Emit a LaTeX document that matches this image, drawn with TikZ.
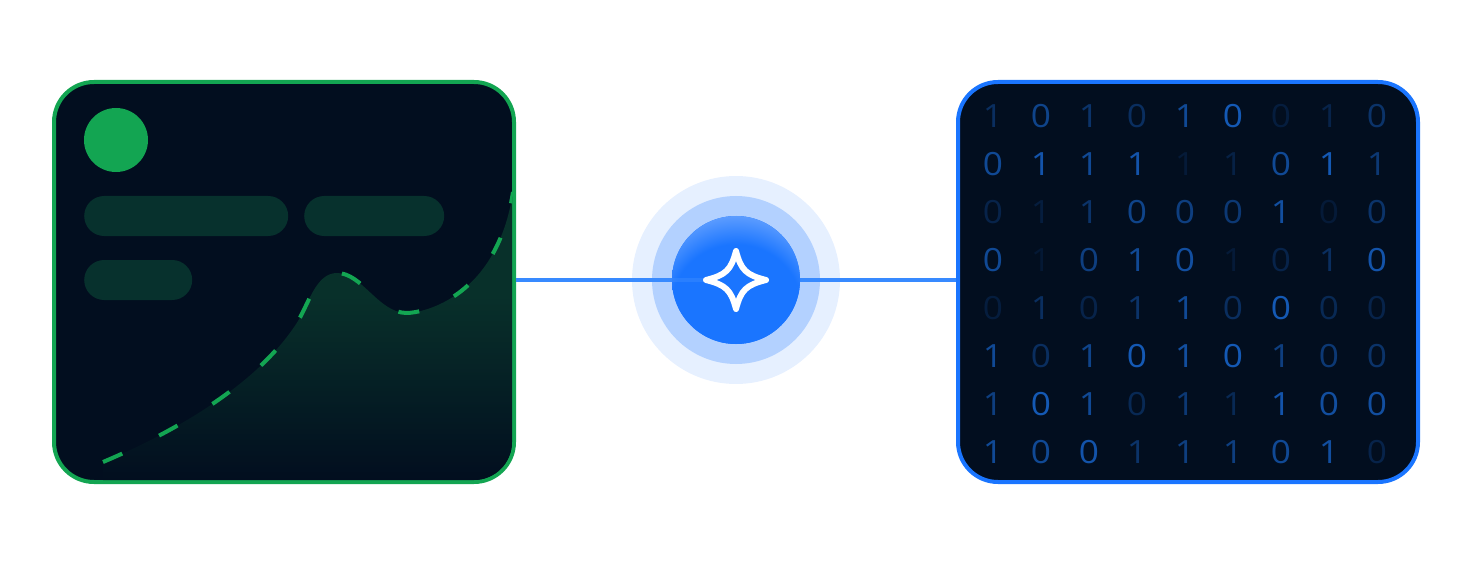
\documentclass[tikz,border=0pt]{standalone}
\usepackage{fontspec}
\setmainfont[FakeStretch=1.1]{Open Sans}
\definecolor{panelblack}{HTML}{020E1F}
\definecolor{chartgreen}{HTML}{13A552}
\definecolor{barfill}{HTML}{07312D}
\definecolor{areagreen}{HTML}{08302A}
\definecolor{linkblue}{HTML}{388AFF}
\definecolor{coreblue}{HTML}{1A75FF}
\definecolor{coreglow}{HTML}{5C9CFF}
\definecolor{bitblue}{HTML}{1A6FE0}
\pgfdeclareverticalshading{areafade}{100bp}{color(0bp)=(panelblack); color(25bp)=(panelblack); color(57bp)=(areagreen); color(100bp)=(areagreen)}
\pgfdeclareradialshading{coreshine}{\pgfpointorigin}{color(0bp)=(coreblue); color(17.5bp)=(coreblue); color(25bp)=(coreglow); color(50bp)=(coreglow)}
\tikzset{
  panel/.style={draw, line width=4pt, fill=panelblack, rounded corners=40pt, minimum width=460pt, minimum height=400pt},
  bar/.style={fill=barfill, rounded corners=20pt, minimum height=40pt, inner sep=0pt, anchor=west},
  halo/.style={circle, fill=coreblue, inner sep=0pt},
  link/.style={line width=4pt, linkblue},
  bit/.style={text=bitblue, font=\fontsize{32}{32}\selectfont, inner sep=0pt}
}
\begin{document}
\begin{tikzpicture}[x=1pt,y=-1pt]
    \useasboundingbox (0,0) rectangle (1472,564);

    \node [panel, draw=chartgreen] (ChartPanel) at (284,282) {};
    \node [panel, draw=coreblue] (BitsPanel) at (1188,282) {};

    \node [circle, fill=chartgreen, inner sep=0pt, minimum size=64pt] (Avatar) at (116,140) {};
    \node [bar, minimum width=204pt] (TitleBar) at (84,216) {};
    \node [bar, minimum width=140pt] (SubtitleBar) at (304,216) {};
    \node [bar, minimum width=108pt] (ValueBar) at (84,280) {};

    \begin{scope}
      \clip [rounded corners=38pt] (56,84) rectangle (512,480);
      \shade [shading=areafade] (103,462) .. controls (160,438) and (255,390) .. (298,321)
        .. controls (309,303) and (316,273) .. (337,273)
        .. controls (362,273) and (378,312) .. (406,313)
        .. controls (425,313) and (497,296) .. (513,192) -- (513,480) -- (103,480) -- cycle;
      \draw [chartgreen, line width=4pt, dash pattern=on 21pt off 41pt on 21pt off 41pt on 21pt off 41pt on 21pt off 41pt on 21pt off 45pt on 21pt off 48pt on 21pt off 38pt on 18pt off 40pt on 18pt off 36pt] (103,462) .. controls (160,438) and (255,390) .. (298,321)
        .. controls (309,303) and (316,273) .. (337,273)
        .. controls (362,273) and (378,312) .. (406,313)
        .. controls (425,313) and (497,296) .. (513,192);
    \end{scope}

    \foreach \rowy/\rowbits [count=\r] in {
      116/{1/30,0/50,1/35,0/30,1/55,0/70,0/15,1/20,0/35},
      164/{0/55,1/65,1/55,1/65,1/12,1/18,0/55,1/70,1/40},
      212/{0/20,1/15,1/35,0/50,0/45,0/40,1/60,0/12,0/35},
      260/{0/55,1/10,0/45,1/55,0/60,1/12,0/20,1/30,0/65},
      308/{0/15,1/30,0/20,1/35,1/55,0/30,0/70,0/25,0/20},
      356/{1/55,0/30,1/50,0/70,1/60,0/70,1/45,0/40,0/35},
      404/{1/45,0/70,1/55,0/25,1/40,1/25,1/65,0/60,0/60},
      452/{1/55,0/55,0/65,1/35,1/45,1/45,0/55,1/60,0/20}}{
      \foreach \bitval/\bitshade [count=\c] in \rowbits {
        \node [bit, text opacity=\bitshade/90] (Bit\r-\c) at (945+48*\c,\rowy) {\bitval};
      }
    }

    \node [halo, fill opacity=0.11, minimum size=208pt] (OuterHalo) at (736,280) {};
    \node [halo, fill opacity=0.25, minimum size=168pt] (MiddleHalo) at (736,280) {};
    \path [link] (ChartPanel.east |- OuterHalo) edge (BitsPanel.west |- OuterHalo);
    \node [halo, minimum size=128pt, path picture={
      \shade [shading=coreshine] (path picture bounding box.center) ++(0,30) circle (94pt);
    }] (SparkCore) at (736,280) {};

    \coordinate (StarLeft) at (706,280);
    \path [link, opacity=0.5] (SparkCore.west) edge (StarLeft);
    \draw [white, line width=6pt, line join=round] (736,251)
      .. controls (741,270) and (746,275) .. (766,280)
      .. controls (746,285) and (741,290) .. (736,309)
      .. controls (731,290) and (726,285) .. (StarLeft)
      .. controls (726,275) and (731,270) .. (736,251) -- cycle;
\end{tikzpicture}
\end{document}
